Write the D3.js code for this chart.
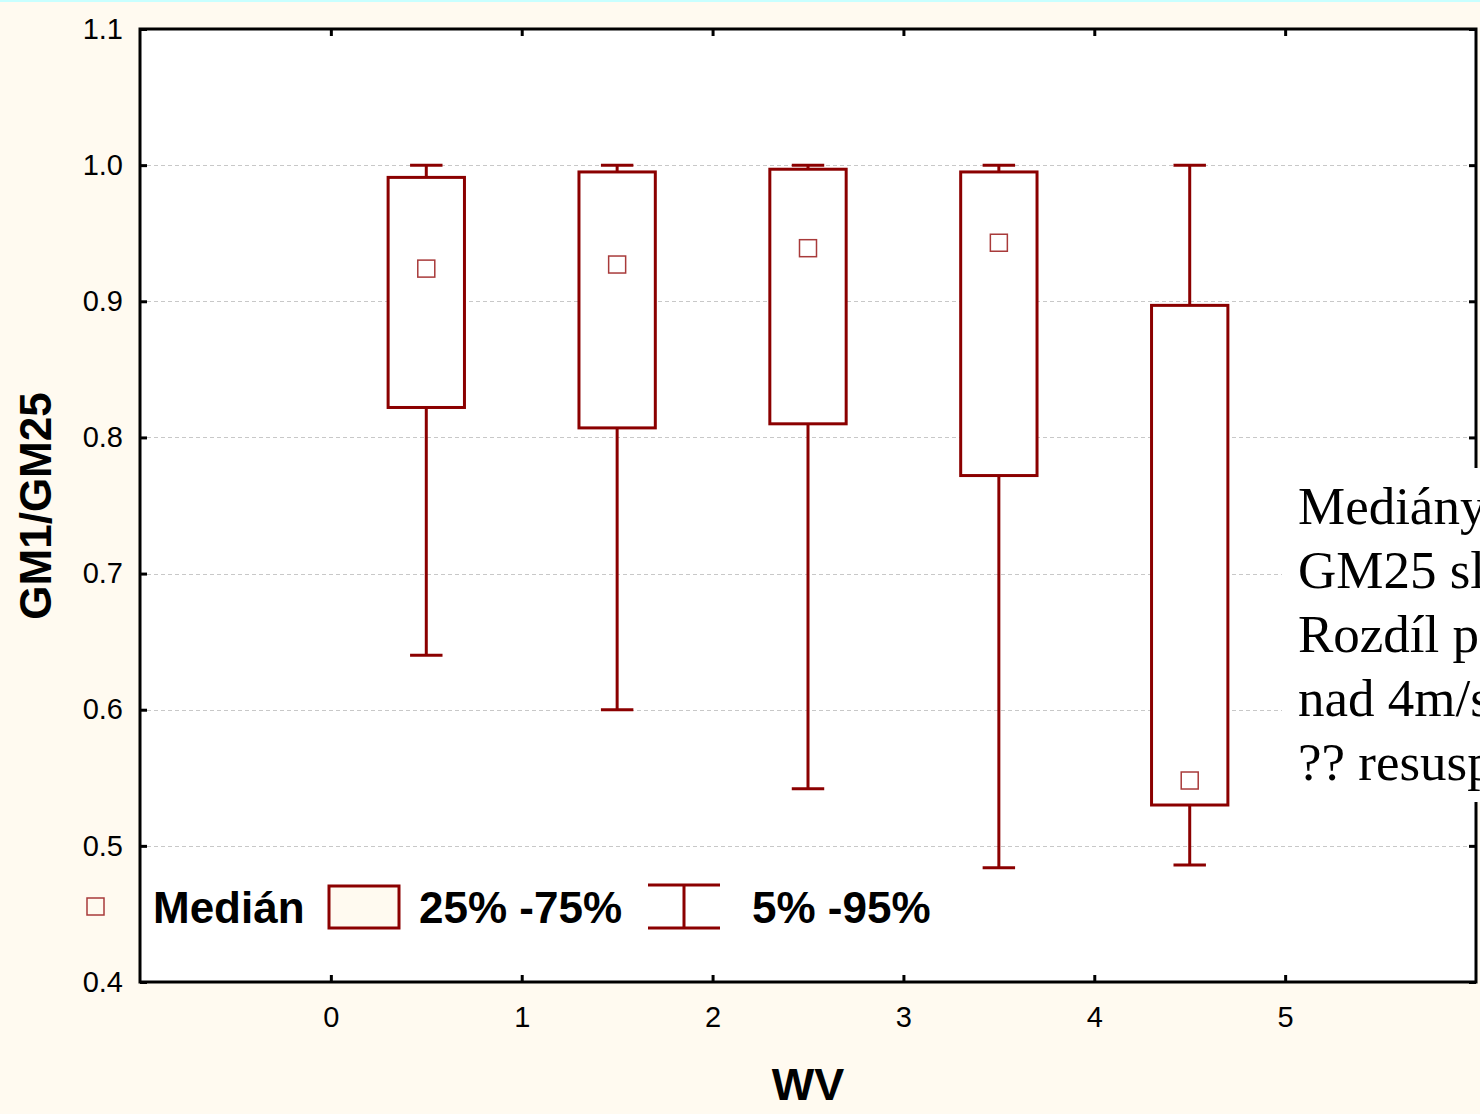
<!DOCTYPE html>
<html>
<head>
<meta charset="utf-8">
<script src="https://cdn.jsdelivr.net/npm/d3@7"></script>
<style>
  html, body { margin: 0; padding: 0; background: #fffaf0; }
  svg { display: block; }
  text { font-family: Arial, 'Liberation Sans', sans-serif; }
  .note text { font-family: 'Times New Roman', 'Liberation Serif', serif; }
</style>
</head>
<body>
<svg id="chart"></svg>
<script>
// Box plot GM1/GM25 vs WV (wind speed classes)
const categories = [0.5, 1.5, 2.5, 3.5, 4.5];
const medians = [0.924, 0.927, 0.939, 0.943, 0.548];
const q25 = [0.822, 0.807, 0.810, 0.772, 0.530];
const q75 = [0.991, 0.995, 0.997, 0.995, 0.897];
const p05 = [0.640, 0.600, 0.542, 0.484, 0.486];
const p95 = [1.0, 1.0, 1.0, 1.0, 1.0];

const xTicks = [0, 1, 2, 3, 4, 5];
const yTicks = [0.4, 0.5, 0.6, 0.7, 0.8, 0.9, 1.0, 1.1];
const gridTicks = [0.5, 0.6, 0.7, 0.8, 0.9, 1.0];

const noteLines = ['Mediány', 'GM25 sl', 'Rozdíl p', 'nad 4m/s', '?? resusp'];

const W = 1480, H = 1114;
const padding = { top: 29, left: 140, right: 4, bottom: 132 };
const red = '#8b0000';
const cream = '#fffaf0';

const svg = d3.select('#chart').attr('width', W).attr('height', H);

svg.append('rect').attr('width', W).attr('height', H).attr('fill', cream);
svg.append('rect').attr('width', W).attr('height', 2).attr('fill', '#c8ffff');

const x = d3.scaleLinear().domain([-1, 6]).range([padding.left, W - padding.right]);
const y = d3.scaleLinear().domain([0.4, 1.1]).range([H - padding.bottom, padding.top]);

const x0 = x.range()[0], x1 = x.range()[1];
const y0 = y.range()[0], y1 = y.range()[1];

// plot area
svg.append('rect')
  .attr('x', x0).attr('y', y1)
  .attr('width', x1 - x0).attr('height', y0 - y1)
  .attr('fill', '#fff');

// gridlines
svg.append('g').attr('class', 'grid')
  .selectAll('line')
  .data(gridTicks)
  .join('line')
  .attr('x1', x0).attr('x2', x1)
  .attr('y1', (d) => Math.round(y(d)) + 0.5)
  .attr('y2', (d) => Math.round(y(d)) + 0.5)
  .attr('stroke', '#c8c8c8')
  .attr('stroke-width', 1)
  .attr('stroke-dasharray', '4,3');

// boxes
const boxW = x(0.4) - x(0);
const capW = x(0.17) - x(0);
const data = categories.map((c, i) => ({
  c, med: medians[i], lo: q25[i], hi: q75[i], min: p05[i], max: p95[i]
}));

const boxes = svg.append('g').attr('class', 'boxes')
  .selectAll('g')
  .data(data)
  .join('g');

boxes.append('line')
  .attr('x1', (d) => x(d.c)).attr('x2', (d) => x(d.c))
  .attr('y1', (d) => y(d.max)).attr('y2', (d) => y(d.hi))
  .attr('stroke', red).attr('stroke-width', 3);
boxes.append('line')
  .attr('x1', (d) => x(d.c)).attr('x2', (d) => x(d.c))
  .attr('y1', (d) => y(d.lo)).attr('y2', (d) => y(d.min))
  .attr('stroke', red).attr('stroke-width', 3);
boxes.selectAll('line.cap')
  .data((d) => [d.min, d.max].map((v) => ({ c: d.c, v })))
  .join('line')
  .attr('class', 'cap')
  .attr('x1', (d) => x(d.c) - capW / 2).attr('x2', (d) => x(d.c) + capW / 2)
  .attr('y1', (d) => y(d.v)).attr('y2', (d) => y(d.v))
  .attr('stroke', red).attr('stroke-width', 3);
boxes.append('rect')
  .attr('x', (d) => x(d.c) - boxW / 2)
  .attr('y', (d) => y(d.hi))
  .attr('width', boxW)
  .attr('height', (d) => y(d.lo) - y(d.hi))
  .attr('fill', '#fff')
  .attr('stroke', red).attr('stroke-width', 3);
boxes.append('rect')
  .attr('x', (d) => x(d.c) - 8.5)
  .attr('y', (d) => y(d.med) - 8.5)
  .attr('width', 17).attr('height', 17)
  .attr('fill', 'none')
  .attr('stroke', '#a83a3a').attr('stroke-width', 1.5);

// frame
svg.append('rect')
  .attr('x', x0).attr('y', y1)
  .attr('width', x1 - x0).attr('height', y0 - y1)
  .attr('fill', 'none').attr('stroke', '#000').attr('stroke-width', 3);

// axes with inner ticks
const tick = 7;
svg.append('g')
  .attr('transform', `translate(0,${y0})`)
  .call(d3.axisBottom(x).tickValues(xTicks).tickSize(-tick).tickPadding(tick + 17).tickFormat(d3.format('d')))
  .call((g) => g.select('.domain').remove())
  .call((g) => g.selectAll('line').attr('stroke-width', 3))
  .call((g) => g.selectAll('text').attr('font-size', 29).attr('fill', '#000'));
svg.append('g')
  .attr('transform', `translate(0,${y1})`)
  .call(d3.axisTop(x).tickValues(xTicks).tickSize(-tick).tickFormat(''))
  .call((g) => g.select('.domain').remove())
  .call((g) => g.selectAll('line').attr('stroke-width', 3));
svg.append('g')
  .attr('transform', `translate(${x0},0)`)
  .call(d3.axisLeft(y).tickValues(yTicks).tickSize(-tick).tickPadding(tick + 10).tickFormat(d3.format('.1f')))
  .call((g) => g.select('.domain').remove())
  .call((g) => g.selectAll('line').attr('stroke-width', 3))
  .call((g) => g.selectAll('text').attr('font-size', 29).attr('fill', '#000'));
svg.append('g')
  .attr('transform', `translate(${x1},0)`)
  .call(d3.axisRight(y).tickValues(yTicks).tickSize(-tick).tickFormat(''))
  .call((g) => g.select('.domain').remove())
  .call((g) => g.selectAll('line').attr('stroke-width', 3));

// axis titles
svg.append('text')
  .attr('x', (x0 + x1) / 2).attr('y', 1100)
  .attr('text-anchor', 'middle')
  .attr('font-size', 45).attr('font-weight', 'bold')
  .text('WV');
svg.append('text')
  .attr('transform', 'translate(51,506) rotate(-90)')
  .attr('text-anchor', 'middle')
  .attr('font-size', 44).attr('font-weight', 'bold')
  .text('GM1/GM25');

// legend
const legend = svg.append('g').attr('class', 'legend');
const ly = 906;
legend.append('rect')
  .attr('x', 87).attr('y', ly - 8).attr('width', 17).attr('height', 17)
  .attr('fill', 'none').attr('stroke', '#a83a3a').attr('stroke-width', 1.5);
legend.append('text')
  .attr('x', 153).attr('y', ly + 17)
  .attr('font-size', 44).attr('font-weight', 'bold')
  .text('Medián');
legend.append('rect')
  .attr('x', 329).attr('y', ly - 20).attr('width', 70).attr('height', 42)
  .attr('fill', cream).attr('stroke', red).attr('stroke-width', 3);
legend.append('text')
  .attr('x', 419).attr('y', ly + 17)
  .attr('font-size', 44).attr('font-weight', 'bold')
  .text('25% -75%');
legend.append('path')
  .attr('d', `M648,${ly - 21}H720M648,${ly + 22}H720M684,${ly - 21}V${ly + 22}`)
  .attr('fill', 'none').attr('stroke', red).attr('stroke-width', 3);
legend.append('text')
  .attr('x', 752).attr('y', ly + 17)
  .attr('font-size', 44).attr('font-weight', 'bold')
  .text('5% -95%');

// overlaid note box (cut off at the right edge, as in the source slide)
const note = svg.append('g').attr('class', 'note');
note.append('rect')
  .attr('x', 1282).attr('y', 468).attr('width', W - 1282).attr('height', 334)
  .attr('fill', '#fff');
note.selectAll('text')
  .data(noteLines)
  .join('text')
  .attr('x', 1298)
  .attr('y', (d, i) => 524 + i * 64)
  .attr('font-size', 53)
  .attr('fill', '#000')
  .text((d) => d);
</script>
</body>
</html>
